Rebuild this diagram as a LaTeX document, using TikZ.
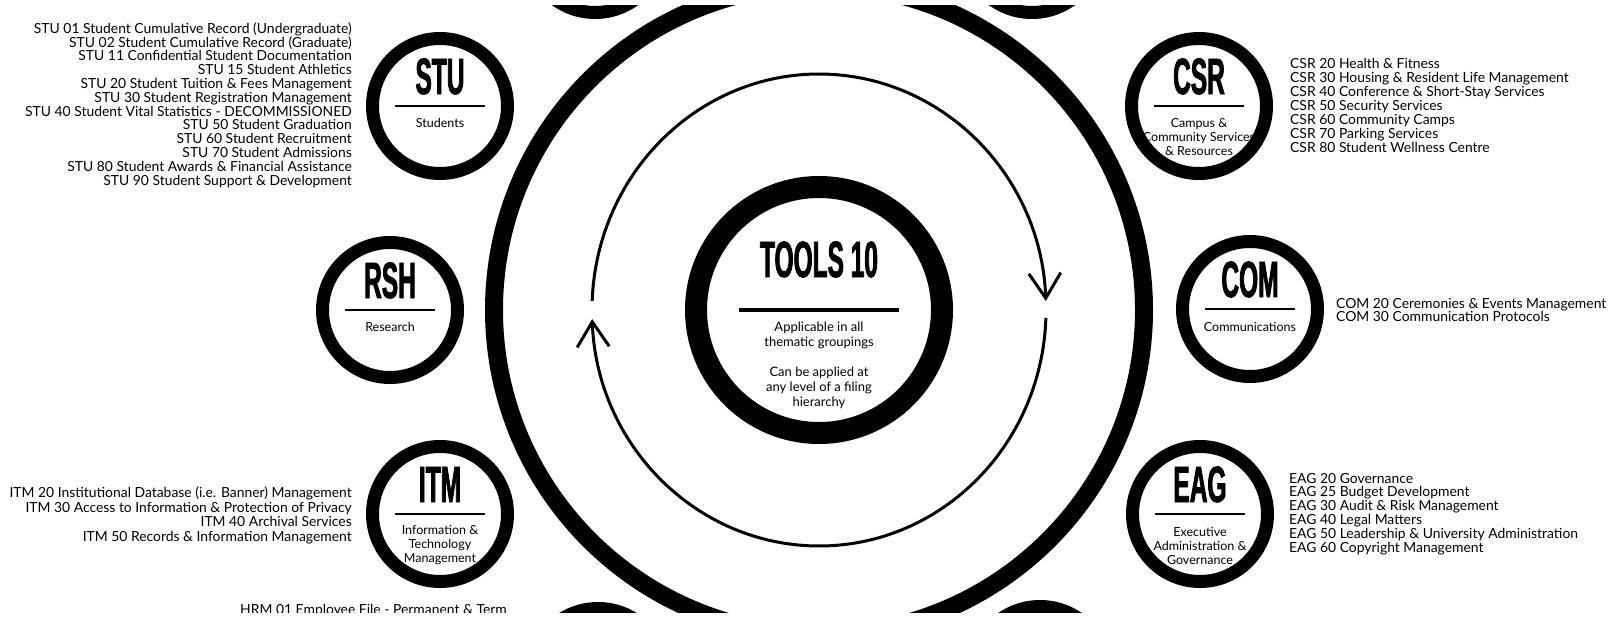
\documentclass[tikz,border=0pt]{standalone}
\usepackage{fontspec}
\setmainfont{Lato}
\newfontfamily\headfont[FakeStretch=0.48, FakeBold=1.5]{Liberation Sans}
\usetikzlibrary{arrows.meta}

% one thematic group: name, x, y, code, drop to last caption line, caption
\newcommand{\group}[6]{%
  \node[grp] (#1) at (#2,-#3) {};
  \node[grphead] (#1-t) at ([yshift=12pt]#1.center) {#4};
  \draw[grprule] ([xshift=-45pt]#1.center) -- ([xshift=45pt]#1.center);
  \node[grpcap] (#1-c) at ([yshift=-#5pt]#1.center) {#6};
}

\begin{document}
\begin{tikzpicture}[
  x=1pt, y=1pt,
  grp/.style     = {circle, draw, line width=13pt, minimum size=135pt,
                    inner sep=0pt, outer sep=0pt},
  grphead/.style = {anchor=base, inner sep=0pt,
                    font=\headfont\bfseries\fontsize{51}{51}\selectfont},
  grpcap/.style  = {anchor=base, inner sep=0pt, align=center,
                    font=\fontsize{12.5}{14}\selectfont},
  grprule/.style = {line width=2.5pt},
  lst/.style     = {inner sep=0pt, font=\fontsize{13.9}{13.8}\selectfont},
  lstl/.style    = {lst, anchor=base west, align=left},
  lstr/.style    = {lst, anchor=base east, align=right},
  cyc/.style     = {line width=3pt,
                    -{Straight Barb[length=25pt, width=32pt]}}
]
  \useasboundingbox (0,0) rectangle (1623,-616);
  \clip (0,-5) rectangle (1623,-612);

  % centre: big ring, cycle arrows, TOOLS
  \node[grp, line width=18pt, minimum size=650pt] (ring) at (819,-310) {};
  \node[grp, line width=22pt, minimum size=246pt] (tools) at (819,-310) {};
  \node[grphead] (tools-t) at ([yshift=33pt]tools.center) {TOOLS 10};
  \draw[grprule, line width=4pt] ([xshift=-80pt]tools.center) -- ([xshift=80pt]tools.center);
  \node[grpcap, font=\fontsize{13}{15}\selectfont] (tools-c)
    at ([yshift=-96pt]tools.center)
    {Applicable in all\\thematic groupings\\[15pt]Can be applied at\\
     any level of a filing\\hierarchy};
  \draw[cyc] ([shift={(177.8:227pt and 236pt)}]tools.center)
    arc[start angle=177.8, end angle=2.2, x radius=227pt, y radius=236pt];
  \draw[cyc] ([shift={(-1.9:227pt and 236pt)}]tools.center)
    arc[start angle=-1.9, end angle=-177.8, x radius=227pt, y radius=236pt];

  % groups round the ring
  \group{stu}{440}{106}{STU}{21}{Students}
  \group{csr}{1199}{106}{CSR}{49}{Campus \&\\Community Services\\\& Resources}
  \group{rsh}{390}{310}{RSH}{21}{Research}
  \group{com}{1250}{309}{COM}{22}{Communications}
  \group{itm}{440}{514}{ITM}{48}{Information \&\\Technology\\Management}
  \group{eag}{1200}{514}{EAG}{50}{Executive\\Administration \&\\Governance}
  \node[grp] (top-l) at (595,55) {};
  \node[grp] (top-r) at (1032,55) {};
  \node[grp] (bot-l) at (598,-676) {};
  \node[grp] (bot-r) at (1040,-674) {};

  % series lists (placed by their last line)
  \node[lstr] (stu-l) at (352,-185)
    {STU 01 Student Cumulative Record (Undergraduate)\\
     STU 02 Student Cumulative Record (Graduate)\\
     STU 11 Confidential Student Documentation\\
     STU 15 Student Athletics\\
     STU 20 Student Tuition \& Fees Management\\
     STU 30 Student Registration Management\\
     STU 40 Student Vital Statistics - DECOMMISSIONED\\
     STU 50 Student Graduation\\
     STU 60 Student Recruitment\\
     STU 70 Student Admissions\hspace{3pt}\\
     STU 80 Student Awards \& Financial Assistance\hspace{3pt}\\
     STU 90 Student Support \& Development};
  \node[lstl, font=\fontsize{13.9}{14}\selectfont] (csr-l) at (1290,-152)
    {CSR 20 Health \& Fitness\\
     CSR 30 Housing \& Resident Life Management\\
     CSR 40 Conference \& Short-Stay Services\\
     CSR 50 Security Services\\
     CSR 60 Community Camps\\
     CSR 70 Parking Services\\
     CSR 80 Student Wellness Centre};
  \node[lstl, font=\fontsize{13.9}{13}\selectfont] (com-l) at (1336,-321)
    {COM 20 Ceremonies \& Events Management\\
     COM 30 Communication Protocols};
  \node[lstr, font=\fontsize{13.9}{14.5}\selectfont] (itm-l) at (352,-541)
    {ITM 20 Institutional Database (i.e. Banner) Management\\
     ITM 30 Access to Information \& Protection of Privacy\\
     ITM 40 Archival Services\\
     ITM 50 Records \& Information Management};
  \node[lstl] (eag-l) at (1289,-552)
    {EAG 20 Governance\\
     EAG 25 Budget Development\\
     EAG 30 Audit \& Risk Management\\
     EAG 40 Legal Matters\\
     EAG 50 Leadership \& University Administration\\
     EAG 60 Copyright Management};
  \node[lstr] (hrm-l) at (507,-614) {HRM 01 Employee File - Permanent \& Term};
\end{tikzpicture}
\end{document}
